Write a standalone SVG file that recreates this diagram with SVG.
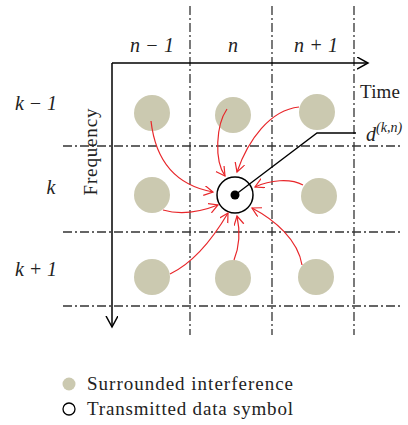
<svg xmlns="http://www.w3.org/2000/svg" width="408" height="425" viewBox="0 0 408 425">
<defs>
<style>
.grid{stroke:#333;stroke-width:1.3;stroke-dasharray:9 3 2 3;fill:none}
.axis{stroke:#000;stroke-width:1.5;fill:none}
.intf{fill:#cbc9b0}
.arr{stroke:#e8262a;stroke-width:1.2;fill:none;marker-end:url(#ah)}
.lbl{font-family:"Liberation Serif",serif;font-style:italic;font-size:20px;fill:#222}
.txt{font-family:"Liberation Serif",serif;font-size:19px;fill:#222}
</style>
<marker id="ah" markerWidth="12" markerHeight="12" refX="9" refY="5" orient="auto" markerUnits="userSpaceOnUse">
<path d="M0,0 L9,5 L0,10" fill="none" stroke="#e8262a" stroke-width="1.2"/>
</marker>
<marker id="ax" markerWidth="14" markerHeight="14" refX="11" refY="6" orient="auto" markerUnits="userSpaceOnUse">
<path d="M0,0 L11,6 L0,12" fill="none" stroke="#000" stroke-width="1.5"/>
</marker>
</defs>
<g id="grid">
<line class="grid" x1="190" y1="6" x2="190" y2="335"/>
<line class="grid" x1="272" y1="6" x2="272" y2="335"/>
<line class="grid" x1="354" y1="6" x2="354" y2="335"/>
<line class="grid" x1="63" y1="146" x2="400" y2="146"/>
<line class="grid" x1="63" y1="232" x2="400" y2="232"/>
<line class="grid" x1="63" y1="306" x2="400" y2="306"/>
</g>
<g id="axes">
<path class="axis" d="M112,63 L368,63" marker-end="url(#ax)"/>
<path class="axis" d="M112,63 L112,327" marker-end="url(#ax)"/>
</g>
<g id="labels">
<text class="lbl" x="152" y="52" text-anchor="middle" textLength="44">n − 1</text>
<text class="lbl" x="233" y="52" text-anchor="middle">n</text>
<text class="lbl" x="316" y="52" text-anchor="middle" textLength="44">n + 1</text>
<text class="lbl" x="36" y="110" text-anchor="middle" textLength="42">k − 1</text>
<text class="lbl" x="51" y="194" text-anchor="middle">k</text>
<text class="lbl" x="36" y="276" text-anchor="middle" textLength="42">k + 1</text>
<text class="txt" x="0" y="0" text-anchor="middle" textLength="87" transform="translate(97,152) rotate(-90)">Frequency</text>
<text class="txt" x="360" y="98" textLength="40">Time</text>
<text class="lbl" x="366" y="141" font-size="21">d<tspan dy="-9" font-size="14">(k,n)</tspan></text>
</g>
<g id="node-r1c1"><circle class="intf" cx="152" cy="113" r="18"/></g>
<g id="node-r1c2"><circle class="intf" cx="233" cy="115" r="18"/></g>
<g id="node-r1c3"><circle class="intf" cx="317" cy="112" r="18"/></g>
<g id="node-r2c1"><circle class="intf" cx="152" cy="195" r="18"/></g>
<g id="node-r2c3"><circle class="intf" cx="319" cy="196" r="18"/></g>
<g id="node-r3c1"><circle class="intf" cx="152" cy="277" r="18"/></g>
<g id="node-r3c2"><circle class="intf" cx="233" cy="278" r="18"/></g>
<g id="node-r3c3"><circle class="intf" cx="316" cy="277" r="18"/></g>
<g id="node-center">
<circle cx="235" cy="195" r="18" fill="#fff" stroke="#000" stroke-width="1.5"/>
<circle cx="235" cy="195" r="4.5" fill="#000"/>
</g>
<g id="connectors">
<path d="M235,195 L317,133 L356,133" fill="none" stroke="#000" stroke-width="1.3"/>
<path class="arr" d="M151,121 C156,165 180,186 213,192"/>
<path class="arr" d="M227,109 C216,125 214,160 225,176"/>
<path class="arr" d="M299,107 C270,110 248,140 237,172"/>
<path class="arr" d="M303,185 C290,178 270,180 255,187"/>
<path class="arr" d="M163,210 C180,215 200,212 218,205"/>
<path class="arr" d="M170,274 C195,262 215,235 228,213"/>
<path class="arr" d="M234,260 C240,245 240,230 237,216"/>
<path class="arr" d="M302,265 C298,240 275,220 252,208"/>
</g>
<g id="legend">
<circle class="intf" cx="69" cy="384" r="6.5"/>
<text class="txt" x="87" y="390" textLength="206">Surrounded interference</text>
<circle cx="69" cy="409" r="6" fill="#fff" stroke="#000" stroke-width="1.3"/>
<text class="txt" x="87" y="415" textLength="206">Transmitted data symbol</text>
</g>
</svg>
